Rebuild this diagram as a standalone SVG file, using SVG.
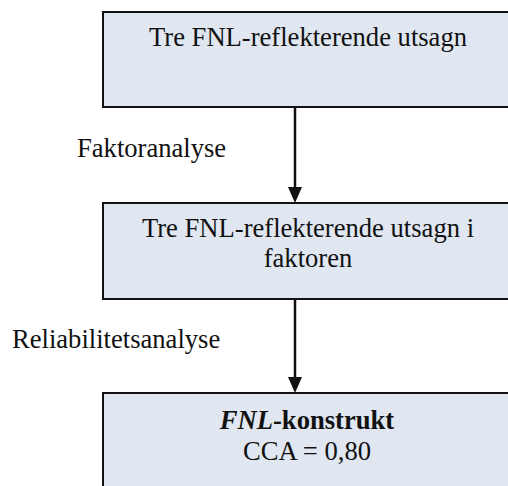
<svg xmlns="http://www.w3.org/2000/svg" width="508" height="486" viewBox="0 0 508 486">
<defs>
<style>
.box{fill:#e0e7f1;stroke:#111;stroke-width:2}
.t{font-family:"Liberation Serif","Times New Roman",serif;font-size:26.6px;fill:#111}
.c{text-anchor:middle}
.conn{stroke:#111;stroke-width:2.5;fill:none}
</style>
</defs>
<rect width="508" height="486" fill="#fff"/>
<g id="connectors">
<line class="conn" x1="295" y1="107" x2="295" y2="188"/>
<path d="M288,187 L302,187 L295,203 Z" fill="#111"/>
<line class="conn" x1="295" y1="299" x2="295" y2="378"/>
<path d="M288,377 L302,377 L295,393 Z" fill="#111"/>
<text class="t" x="77" y="157">Faktoranalyse</text>
<text class="t" x="12" y="348">Reliabilitetsanalyse</text>
</g>
<g id="node1">
<rect class="box" x="103" y="12" width="412" height="95"/>
<text class="t c" x="308" y="46">Tre FNL-reflekterende utsagn</text>
</g>
<g id="node2">
<rect class="box" x="103" y="203" width="412" height="96"/>
<text class="t c" x="308" y="237">Tre FNL-reflekterende utsagn i</text>
<text class="t c" x="308" y="267">faktoren</text>
</g>
<g id="node3">
<rect class="box" x="103" y="393" width="412" height="110"/>
<text class="t c" x="307" y="429" font-weight="bold"><tspan font-style="italic">FNL</tspan>-konstrukt</text>
<text class="t c" x="307" y="460">CCA = 0,80</text>
</g>
</svg>
